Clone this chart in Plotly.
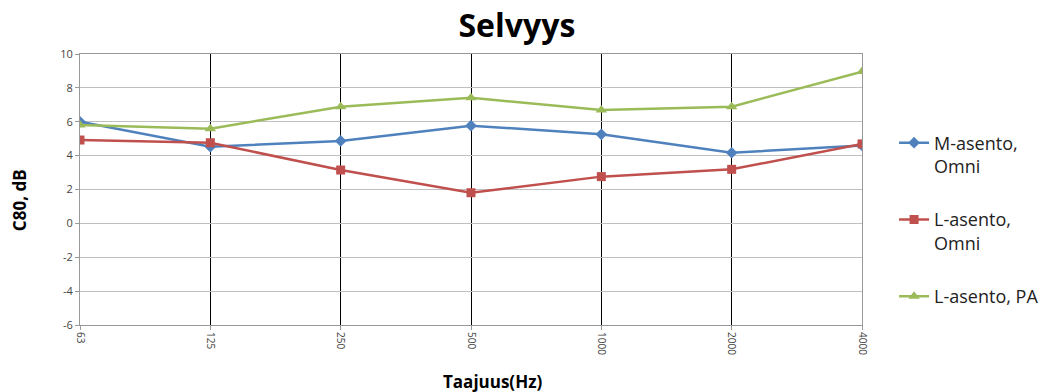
import plotly.graph_objects as go

# Octave band centre frequencies (Hz)
freqs = ["63", "125", "250", "500", "1000", "2000", "4000"]

# C80 clarity values, dB
m_omni = [6.0, 4.53, 4.87, 5.77, 5.26, 4.17, 4.6]
l_omni = [4.92, 4.76, 3.15, 1.81, 2.76, 3.19, 4.69]
l_pa = [5.81, 5.59, 6.89, 7.42, 6.69, 6.89, 8.96]

series_names = ["M-asento,<br>Omni", "L-asento,<br>Omni", "L-asento, PA"]
series_values = [m_omni, l_omni, l_pa]
colors = ["#4F81BD", "#C0504D", "#9BBB59"]
symbols = ["diamond", "square", "triangle-up"]
marker_sizes = [9, 9, 10]

y_ticks = [-6, -4, -2, 0, 2, 4, 6, 8, 10]
y_ticktext = [str(v) for v in y_ticks]  # plain hyphen for negatives

FONT = "Open Sans"

fig = go.Figure()
xs = list(range(len(freqs)))
for i, (name, vals) in enumerate(zip(series_names, series_values)):
    fig.add_trace(go.Scatter(
        x=xs, y=vals, name=name, mode="lines+markers",
        legendgroup=f"g{i}",
        line=dict(color=colors[i], width=2.5),
        marker=dict(symbol=symbols[i], size=marker_sizes[i], color=colors[i]),
    ))

fig.update_layout(
    width=1040, height=392,
    margin=dict(l=80, r=178, t=54, b=67, autoexpand=False),
    paper_bgcolor="white", plot_bgcolor="white",
    font=dict(family=FONT, color="#333333"),
    title=dict(text="<b>Selvyys</b>", x=0.497, xanchor="center",
               y=0.935, yanchor="middle",
               font=dict(family=FONT, size=32, color="#000000")),
    showlegend=True,
    legend=dict(x=1.041, y=0.74, xanchor="left", yanchor="top",
                font=dict(family=FONT, size=18, color="#222222"),
                tracegroupgap=27, valign="top", itemwidth=30,
                bgcolor="rgba(0,0,0,0)"),
    annotations=[
        dict(text="<b>Taajuus(Hz)</b>", xref="paper", yref="paper",
             x=0.527, y=-0.207, xanchor="center", yanchor="middle",
             showarrow=False,
             font=dict(family=FONT, size=17, color="#000000")),
        dict(text="<b>C80, dB</b>", xref="paper", yref="paper",
             x=-0.077, y=0.46, xanchor="center", yanchor="middle",
             textangle=-90, showarrow=False,
             font=dict(family=FONT, size=17, color="#000000")),
    ],
)

fig.update_xaxes(
    range=[0, len(freqs) - 1],
    tickmode="array", tickvals=xs, ticktext=freqs,
    tickangle=90, tickfont=dict(size=10, color="#444444"),
    showgrid=True, gridcolor="#000000", gridwidth=1,
    showline=True, linecolor="#999999", linewidth=1, mirror=True,
    ticks="outside", ticklen=4, tickcolor="#999999",
    zeroline=False,
)
fig.update_yaxes(
    range=[-6, 10], tickmode="array", tickvals=y_ticks, ticktext=y_ticktext,
    tickfont=dict(size=11, color="#444444"),
    showgrid=True, gridcolor="#BFBFBF", gridwidth=1,
    showline=True, linecolor="#999999", linewidth=1, mirror=True,
    ticks="outside", ticklen=4, tickcolor="#999999",
    zeroline=False,
)

fig.write_html("out.html")
